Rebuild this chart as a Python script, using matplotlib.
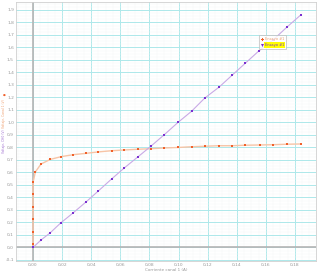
import numpy as np
import matplotlib
matplotlib.use("Agg")
from matplotlib import pyplot as plt
from matplotlib.ticker import MultipleLocator, FuncFormatter

# Ensayo #1 (orange): diode-like curve
diode_i = [0.0, 0.0, 0.0, 0.0, 0.0, 0.0, 0.0, 0.0016, 0.0055, 0.012, 0.0195,
           0.0275, 0.0362, 0.0445, 0.054, 0.0627, 0.072, 0.081, 0.090, 0.0997,
           0.109, 0.118, 0.1276, 0.137, 0.146, 0.156, 0.165, 0.1746, 0.184]
diode_v = [0.0, 0.025, 0.124, 0.23, 0.326, 0.43, 0.52, 0.604, 0.668, 0.705, 0.727,
           0.742, 0.753, 0.764, 0.774, 0.78, 0.786, 0.79, 0.796, 0.80,
           0.806, 0.81, 0.814, 0.814, 0.818, 0.82, 0.822, 0.826, 0.828]

# Ensayo #1 (purple): resistor
res_i = [0.0, 0.0055, 0.0117, 0.019, 0.0275, 0.0364, 0.0447, 0.054, 0.0627,
         0.072, 0.081, 0.090, 0.0996, 0.109, 0.118, 0.128, 0.137, 0.146,
         0.155, 0.165, 0.1746, 0.184]
res_v = [0.0, 0.06, 0.116, 0.196, 0.276, 0.364, 0.45, 0.548, 0.636,
         0.724, 0.81, 0.90, 1.0, 1.09, 1.195, 1.284, 1.38, 1.475,
         1.57, 1.66, 1.764, 1.86]

fig = plt.figure(figsize=(3.2, 2.75), dpi=100)
ax = fig.add_axes([0.05, 0.051, 0.9375, 0.9418])

ax.set_xlim(-0.0117, 0.1945)
ax.set_ylim(-0.108, 1.964)

ax.xaxis.set_major_locator(MultipleLocator(0.02))
ax.yaxis.set_major_locator(MultipleLocator(0.1))
ax.xaxis.set_minor_locator(MultipleLocator(0.005))
ax.yaxis.set_minor_locator(MultipleLocator(0.025))
ax.grid(which="major", color="#ade8ea", lw=0.7)
ax.grid(which="minor", color="#f3f7f7", lw=0.3)
ax.set_axisbelow(True)
ax.axvline(0, color="#b4b4b4", lw=1.2, zorder=1)
ax.axhline(0, color="#b4b4b4", lw=1.2, zorder=1)

for s in ax.spines.values():
    s.set_color("#d0d0d0")
    s.set_linewidth(0.6)

ax.xaxis.set_major_formatter(FuncFormatter(lambda v, p: f"{v:.2f}".replace(".", ",")))
ax.yaxis.set_major_formatter(FuncFormatter(lambda v, p: f"{v:.1f}".replace(".", ",")))
ax.tick_params(which="both", length=0, pad=1.5)
ax.tick_params(labelsize=3.2, colors="#999999")

ax.plot(diode_i, diode_v, "-", color="#f7c4a6", lw=1.0, zorder=3)
ax.plot(diode_i, diode_v, "s", color="#f0602a", ms=2.0, mew=0, zorder=4)
ax.plot(res_i, res_v, "-", color="#c9a9e6", lw=0.8, zorder=3)
ax.plot(res_i, res_v, "s", color="#7a30d0", ms=2.0, mew=0, zorder=4)

# legend: two entries, second highlighted
h1, = ax.plot([], [], "P", color="#f0602a", ms=2.2, mew=0)
h2, = ax.plot([], [], "v", color="#7a30d0", ms=2.2, mew=0)
leg = ax.legend([h1, h2], ["Ensayo #1", "Ensayo #1"], loc="upper left",
                bbox_to_anchor=(0.805, 0.878), fontsize=2.6,
                frameon=True, fancybox=False, edgecolor="#bbbbbb",
                handlelength=0.5, handletextpad=0.5, borderpad=0.5,
                labelspacing=0.45)
leg.get_frame().set_linewidth(0.6)
texts = leg.get_texts()
texts[0].set_color("#f0a070")
texts[1].set_color("#7a30d0")
texts[1].set_bbox(dict(facecolor="#ffff00", edgecolor="none", pad=0.6))

ax.set_xlabel("Corriente canal 1 (A)", fontsize=3.0, color="#999999", labelpad=1)

# stacked y labels, one per series, placed one below the other
renderer = fig.canvas.get_renderer()
H = fig.bbox.height
fig.text(0.013, 1 - 95 / H, "\u25CF", fontsize=2.3, color="#f0602a",
         ha="center", va="center")
t1 = fig.text(0.013, 1 - 99 / H, "Voltaje, Canal 1 (V)", rotation=90,
              fontsize=2.2, color="#f0a070", ha="center", va="top")
bottom = t1.get_window_extent(renderer).y0
fig.text(0.013, (bottom - 2) / H, "Voltaje, CH0 (V)", rotation=90,
         fontsize=2.2, color="#a070d0", ha="center", va="top")

fig.savefig("out.png", dpi=100)
